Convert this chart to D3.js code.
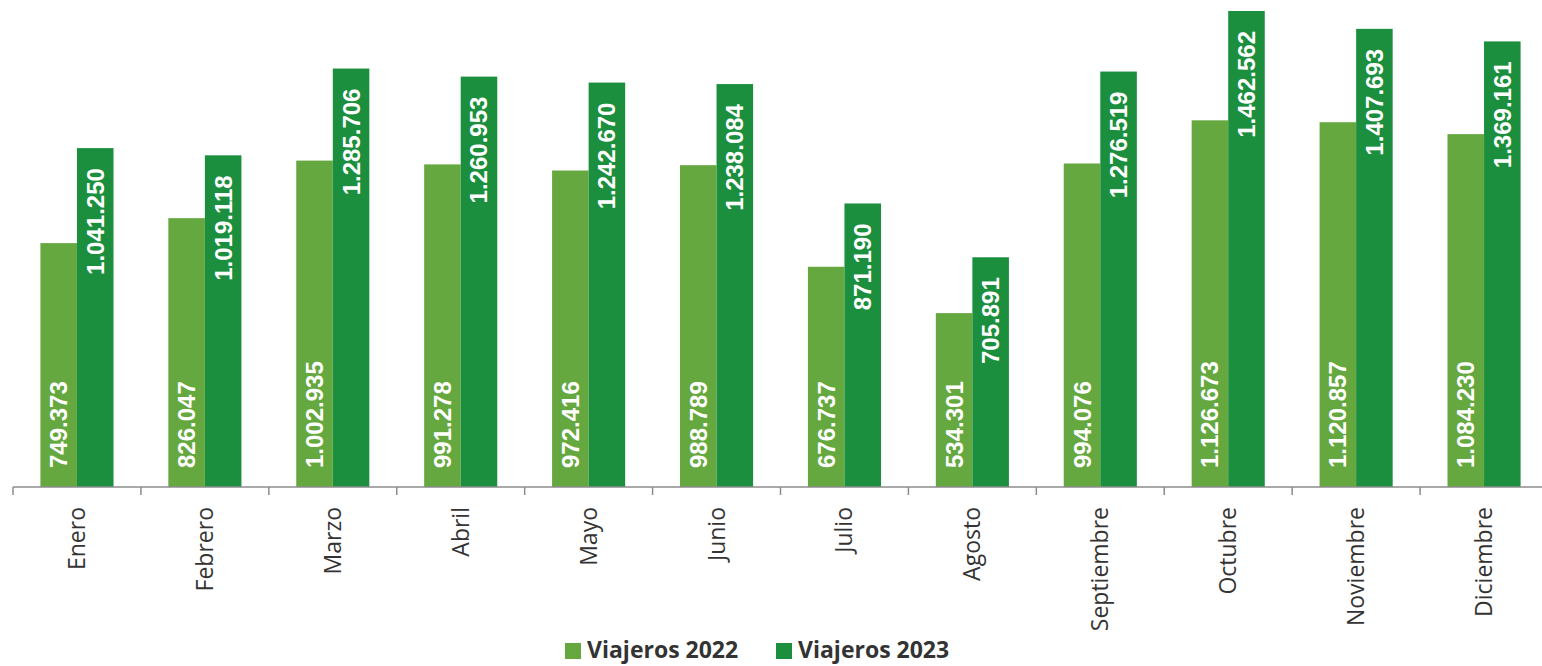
<!DOCTYPE html>
<html>
<head>
<meta charset="utf-8">
<script src="https://cdn.jsdelivr.net/npm/d3@7"></script>
<style>
  body { margin: 0; background: #fff; }
  svg { display: block; }
</style>
</head>
<body>
<script>
// meses y viajeros por año
var meses = ['Enero','Febrero','Marzo','Abril','Mayo','Junio','Julio','Agosto','Septiembre','Octubre','Noviembre','Diciembre'];
var viajeros2022 = [749373, 826047, 1002935, 991278, 972416, 988789, 676737, 534301, 994076, 1126673, 1120857, 1084230];
var viajeros2023 = [1041250, 1019118, 1285706, 1260953, 1242670, 1238084, 871190, 705891, 1276519, 1462562, 1407693, 1369161];
var series = ['Viajeros 2022', 'Viajeros 2023'];
var colores = ['#66a840', '#1b8f3e'];

var W = 1542, H = 666;
var base = 487;

var svg = d3.select('body').append('svg')
    .attr('width', W)
    .attr('height', H);

var x = d3.scaleBand()
    .domain(meses)
    .range([13, 1548]);

var x1 = d3.scaleBand()
    .domain(series)
    .range([0, x.bandwidth()])
    .paddingOuter(0.75);

var y = d3.scaleLinear()
    .domain([0, 1462562])
    .range([base, 11]);

// formato es-ES: 1.041.250
var fmt = function(v){
    return d3.format(',')(v).replace(/,/g, '.');
};

var data = meses.map(function(m, i){
    return { mes: m, vals: [viajeros2022[i], viajeros2023[i]] };
});

var grupos = svg.selectAll('g.mes')
    .data(data)
    .enter()
    .append('g')
    .attr('class', 'mes')
    .attr('transform', function(d){ return 'translate(' + x(d.mes) + ',0)'; });

grupos.selectAll('rect')
    .data(function(d){ return d.vals.map(function(v, j){ return { s: series[j], v: v, j: j }; }); })
    .enter()
    .append('rect')
    .attr('x', function(d){ return x1(d.s); })
    .attr('y', function(d){ return y(d.v); })
    .attr('width', x1.bandwidth())
    .attr('height', function(d){ return base - y(d.v); })
    .attr('fill', function(d){ return colores[d.j]; });

// etiquetas de valores (giradas)
grupos.selectAll('text.val')
    .data(function(d){ return d.vals.map(function(v, j){ return { s: series[j], v: v, j: j }; }); })
    .enter()
    .append('text')
    .attr('class', 'val')
    .attr('transform', function(d){
        var cx = x1(d.s) + x1.bandwidth() / 2 + 8.5;
        var cy = d.j === 0 ? base - 19 : y(d.v) + 20;
        return 'translate(' + cx + ',' + cy + ') rotate(-90)';
    })
    .attr('text-anchor', function(d){ return d.j === 0 ? 'start' : 'end'; })
    .attr('font-family', '"Liberation Sans", Arial, sans-serif')
    .attr('font-weight', 'bold')
    .attr('font-size', 24)
    .attr('fill', '#fff')
    .text(function(d){ return fmt(d.v); });

// eje x
var axis = svg.append('g')
    .attr('transform', 'translate(0,' + base + ')');

axis.append('line')
    .attr('x1', 13).attr('x2', 1548)
    .attr('y1', 0).attr('y2', 0)
    .attr('stroke', '#8c8c8c')
    .attr('stroke-width', 1.5);

axis.selectAll('line.tick')
    .data(meses.concat(['__fin']))
    .enter()
    .append('line')
    .attr('class', 'tick')
    .attr('x1', function(d, i){ return 13 + i * x.step(); })
    .attr('x2', function(d, i){ return 13 + i * x.step(); })
    .attr('y1', 0).attr('y2', 8)
    .attr('stroke', '#8c8c8c')
    .attr('stroke-width', 1.5);

axis.selectAll('text.mes')
    .data(meses)
    .enter()
    .append('text')
    .attr('class', 'mes')
    .attr('transform', function(d){
        return 'translate(' + (x(d) + x.bandwidth() / 2 + 8) + ',20) rotate(-90)';
    })
    .attr('text-anchor', 'end')
    .attr('font-family', '"Open Sans", sans-serif')
    .attr('font-size', 23)
    .attr('fill', '#333')
    .text(function(d){ return d; });

// leyenda
var leyX = [565, 776];
var ley = svg.selectAll('g.ley')
    .data(series)
    .enter()
    .append('g')
    .attr('class', 'ley')
    .attr('transform', function(d, i){ return 'translate(' + leyX[i] + ',643)'; });

ley.append('rect')
    .attr('width', 16).attr('height', 16)
    .attr('fill', function(d, i){ return colores[i]; });

ley.append('text')
    .attr('x', 22)
    .attr('y', 15)
    .attr('font-family', '"Open Sans", sans-serif')
    .attr('font-weight', 'bold')
    .attr('font-size', 23)
    .attr('fill', '#333')
    .text(function(d){ return d; });
</script>
</body>
</html>
